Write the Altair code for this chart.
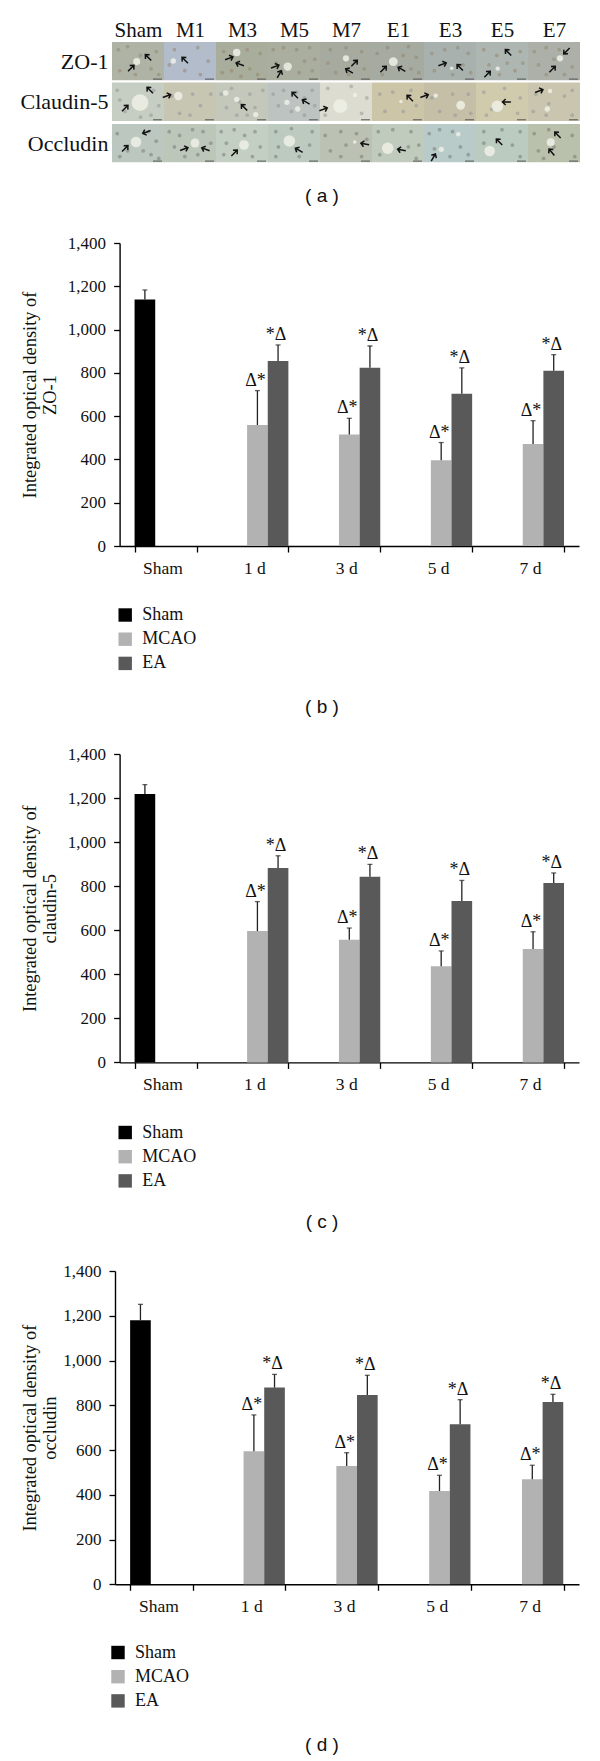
import altair as alt
import pandas as pd

SERIF = "Liberation Serif"
SANS = "Liberation Sans"

# ---------- panel (a): micrograph grid ----------
columns = ["Sham", "M1", "M3", "M5", "M7", "E1", "E3", "E5", "E7"]
rows = ["ZO-1", "Claudin-5", "Occludin"]
row_spans = [(41.7, 80.0), (82.3, 120.7), (123.7, 162.0)]
tile_colors = [
    ["#aeb3a5", "#b3bccb", "#a9ad9c", "#a9ae9f", "#a7ab9f", "#a5aba0", "#a8b1ae", "#adb6b0", "#acb0a8"],
    ["#c6cdc2", "#c7c6b3", "#c3c8bb", "#bcc3c0", "#dcdcd0", "#cdc5a8", "#c5bfa7", "#d1cbae", "#c9c5ae"],
    ["#bcc8bf", "#bcc7ba", "#c4cfc4", "#bccac0", "#bcc2b3", "#c0cabd", "#b8cbc8", "#bccbbf", "#b9c0ab"],
]
nucleus_colors = ["#94846a", "#8e949a", "#6f7670"]
vessel_x = [136.7, 173.3, 236.7, 287.7, 346, 393.3, 451.7, 497.7, 560,
            140, 178.3, 225.7, 236.7, 255.7, 287, 297.7, 340.3, 355, 401, 435.7, 460.7, 497.3, 550, 547.3,
            136, 195, 244, 289.3, 354.7, 387.7, 441.3, 458.3, 489.7, 550.7]
vessel_y = [61.3, 60.7, 52.3, 66.3, 58, 61.3, 68, 68.3, 58,
            102.3, 95.7, 92.7, 99, 114.3, 102, 108.7, 105.7, 94.7, 101.3, 95.3, 105, 106, 90.7, 108.7,
            141.7, 142.7, 144.7, 140.7, 141.7, 148, 149, 134, 150.7, 142]
vessel_d = [8, 6, 8.5, 9.5, 7, 10, 4, 5, 7,
            19, 9.5, 6, 6, 6, 6, 6, 16, 5, 4, 5, 10, 13, 5, 6,
            12, 10, 11, 13, 4, 13, 6, 5, 12, 9]
arrow_x = [131, 148.3, 185, 229, 240, 275, 279.3, 354.3, 349.3, 383.3, 401.7, 442.3, 460, 508.3, 487.3, 566.7, 552.3,
           150, 125, 166.7, 244.3, 295, 306, 323.3, 410, 424.3, 506.7, 539,
           146.7, 125, 184, 205.7, 234.3, 299, 365, 401.7, 433.3, 499.3, 557.7, 551.7]
arrow_y = [68, 57.3, 60, 58, 64, 66.3, 74, 63, 70.7, 69, 69, 64, 67.3, 52.3, 74, 50.7, 69,
           90, 108, 95.7, 107.3, 95, 101.7, 109, 98, 95.7, 101.7, 90.7,
           131.7, 148.3, 148.7, 149, 152.7, 150, 143.7, 149.7, 157.3, 141.7, 134.7, 152]
arrow_angle = [45, 315, 315, 70, 290, 70, 30, 45, 300, 45, 300, 70, 315, 315, 45, 225, 45,
               315, 45, 70, 315, 315, 300, 70, 315, 70, 270, 70,
               250, 45, 70, 290, 45, 300, 280, 280, 30, 315, 315, 320]
# nuclei seen in the tiles, as (across, down) fractions of a tile, listed tile by tile
nuclei_row1 = [
    [(.12, .2), (.3, .12), (.85, .25), (.75, .7), (.15, .75), (.9, .85), (.55, .35), (.45, .85)],
    [(.2, .2), (.65, .15), (.85, .5), (.4, .75), (.7, .85), (.1, .6)],
    [(.15, .25), (.3, .75), (.65, .7), (.85, .3), (.6, .2), (.12, .8), (.8, .85), (.48, .9)],
    [(.1, .2), (.3, .15), (.55, .2), (.8, .15), (.9, .45), (.7, .5), (.35, .6), (.6, .8), (.85, .75), (.15, .55)],
    [(.2, .2), (.5, .15), (.8, .25), (.15, .55), (.7, .5), (.3, .8), (.85, .7), (.55, .85)],
    [(.1, .3), (.3, .15), (.7, .12), (.85, .4), (.75, .7), (.2, .85), (.9, .8), (.6, .35)],
    [(.15, .3), (.4, .2), (.65, .15), (.85, .3), (.75, .6), (.2, .75), (.55, .85), (.9, .8)],
    [(.15, .2), (.4, .35), (.25, .6), (.6, .55), (.85, .25), (.75, .75), (.45, .85), (.9, .55)],
    [(.12, .25), (.35, .15), (.2, .6), (.5, .45), (.85, .65), (.35, .85), (.7, .85), (.6, .2)],
]
nuclei_row2 = [
    [(.1, .2), (.25, .75), (.8, .2), (.9, .6), (.75, .85), (.15, .45), (.55, .9)],
    [(.15, .35), (.3, .8), (.55, .3), (.7, .6), (.9, .3), (.5, .85)],
    [(.1, .3), (.3, .15), (.2, .65), (.45, .5), (.65, .3), (.75, .65), (.9, .2), (.4, .85), (.6, .85)],
    [(.1, .3), (.3, .2), (.2, .6), (.45, .75), (.55, .25), (.7, .4), (.85, .2), (.9, .6), (.7, .85)],
    [(.15, .15), (.6, .1), (.8, .8), (.1, .85), (.9, .4)],
    [(.15, .3), (.4, .25), (.25, .75), (.6, .75), (.85, .6), (.75, .2)],
    [(.15, .4), (.3, .75), (.55, .3), (.6, .85), (.85, .3), (.9, .8)],
    [(.15, .25), (.3, .7), (.55, .15), (.85, .4), (.8, .8), (.2, .85)],
    [(.15, .3), (.1, .75), (.4, .55), (.7, .35), (.85, .2), (.85, .85), (.35, .85)],
]
nuclei_row3 = [
    [(.1, .25), (.3, .7), (.15, .85), (.7, .2), (.85, .45), (.75, .8), (.9, .9), (.6, .7)],
    [(.1, .2), (.3, .3), (.55, .15), (.2, .6), (.75, .2), (.9, .5), (.65, .8), (.4, .85)],
    [(.1, .2), (.35, .15), (.2, .5), (.75, .2), (.85, .6), (.7, .85), (.15, .8), (.55, .3)],
    [(.15, .2), (.45, .12), (.85, .2), (.2, .6), (.8, .55), (.15, .85), (.6, .85)],
    [(.1, .3), (.4, .2), (.7, .25), (.2, .7), (.5, .55), (.8, .85), (.4, .85), (.9, .4)],
    [(.12, .2), (.4, .15), (.75, .2), (.9, .55), (.15, .8), (.7, .6), (.85, .9)],
    [(.1, .25), (.3, .15), (.2, .65), (.55, .2), (.7, .6), (.5, .85), (.85, .8)],
    [(.15, .2), (.5, .15), (.85, .2), (.7, .55), (.15, .5), (.85, .85)],
    [(.12, .25), (.4, .15), (.2, .7), (.5, .6), (.85, .3), (.3, .9), (.9, .85)],
]

X0, X1 = 112.0, 580.0
cw = (X1 - X0) / len(columns)
centers = [X0 + cw * (i + 0.5) for i in range(len(columns))]
tiles = pd.DataFrame([
    {"x": X0 + cw * c, "x2": X0 + cw * (c + 1), "y": row_spans[r][0], "y2": row_spans[r][1], "color": tile_colors[r][c]}
    for r in range(3) for c in range(9)
])
bars_scale = pd.DataFrame([
    {"x": X0 + cw * (c + 1) - 11, "x2": X0 + cw * (c + 1) - 2, "y": row_spans[r][1] - 1.2}
    for r in range(3) for c in range(9)
])
nuclei = pd.DataFrame([
    {"x": X0 + cw * (c + u), "y": row_spans[r][0] + (row_spans[r][1] - row_spans[r][0]) * v, "color": nucleus_colors[r]}
    for r, tbl in enumerate([nuclei_row1, nuclei_row2, nuclei_row3])
    for c, pts in enumerate(tbl) for u, v in pts
])
vessels = pd.DataFrame({"x": vessel_x, "y": vessel_y, "size": [d * d * 0.785 for d in vessel_d]})
arrows = pd.DataFrame({"x": arrow_x, "y": arrow_y, "angle": arrow_angle})

xs = alt.Scale(domain=[X0, X1], range=[0, 468], nice=False, zero=False)
ys = alt.Scale(domain=[row_spans[0][0], row_spans[2][1]], range=[0, 120.3], nice=False, zero=False)
row_centers = [(a + b) / 2 for a, b in row_spans]
col_names = "[" + ",".join(f"'{n}'" for n in columns) + "]"
row_names = "[" + ",".join(f"'{n}'" for n in rows) + "]"
x_axis_a = alt.Axis(orient="top", values=centers,
                    labelExpr=f"{col_names}[floor((datum.value-{X0})/{cw})]",
                    domain=False, ticks=False, labelFont=SERIF, labelFontSize=21, labelColor="#111",
                    labelPadding=2, title=None, grid=False, labelAngle=0)
y_axis_a = alt.Axis(values=row_centers,
                    labelExpr=f"{row_names}[datum.value<81?0:(datum.value<122?1:2)]",
                    domain=False, ticks=False, labelFont=SERIF, labelFontSize=22, labelColor="#111",
                    labelPadding=4, title=None, grid=False)

a_tiles = alt.Chart(tiles).mark_rect(stroke=None).encode(
    x=alt.X("x:Q", scale=xs, axis=x_axis_a), x2="x2:Q",
    y=alt.Y("y:Q", scale=ys, axis=y_axis_a), y2="y2:Q",
    color=alt.Color("color:N", scale=None),
)
a_nuclei = alt.Chart(nuclei).mark_point(filled=True, opacity=0.5, shape="circle", size=14).encode(
    x=alt.X("x:Q", scale=xs), y=alt.Y("y:Q", scale=ys), color=alt.Color("color:N", scale=None),
)
a_vessels = alt.Chart(vessels).mark_point(filled=True, opacity=0.85, color="#eef0e6", shape="circle").encode(
    x=alt.X("x:Q", scale=xs), y=alt.Y("y:Q", scale=ys), size=alt.Size("size:Q", scale=None, legend=None),
)
ARROW = "M0,1 L0,-1 M-0.7,-0.25 L0,-1 L0.7,-0.25"
a_arrows = alt.Chart(arrows).mark_point(shape=ARROW, filled=False, color="#111", strokeWidth=1.5, size=70, opacity=1).encode(
    x=alt.X("x:Q", scale=xs), y=alt.Y("y:Q", scale=ys), angle=alt.Angle("angle:Q", scale=None),
)
a_bars = alt.Chart(bars_scale).mark_rule(color="#555", strokeWidth=1).encode(
    x=alt.X("x:Q", scale=xs), x2="x2:Q", y=alt.Y("y:Q", scale=ys),
)
panel_a = alt.layer(a_tiles, a_nuclei, a_vessels, a_bars, a_arrows).properties(
    width=468, height=120.3,
    title=alt.TitleParams("( a )", orient="bottom", font=SANS, fontSize=19, fontWeight="normal", dx=-24, offset=23, color="#111"),
)

# ---------- panels (b)-(d): bars ----------
groups = ["Sham", "MCAO", "EA"]
times = ["Sham", "1 d", "3 d", "5 d", "7 d"]
days = times[1:]

zo_sham, zo_sham_cap = 1139, 1183
zo_mcao = [559, 515, 396, 471]
zo_mcao_cap = [718, 590, 478, 579]
zo_ea = [855, 824, 703, 810]
zo_ea_cap = [929, 924, 823, 884]

cl_sham, cl_sham_cap = 1218, 1261
cl_mcao = [596, 557, 437, 515]
cl_mcao_cap = [730, 610, 506, 593]
cl_ea = [882, 843, 733, 814]
cl_ea_cap = [938, 899, 826, 860]

oc_sham, oc_sham_cap = 1180, 1251
oc_mcao = [594, 529, 417, 469]
oc_mcao_cap = [757, 588, 487, 532]
oc_ea = [879, 846, 715, 815]
oc_ea_cap = [938, 934, 825, 849]


def table(sham, sham_cap, mcao, mcao_cap, ea, ea_cap):
    recs = [{"time": "Sham", "group": "Sham", "value": sham, "cap": sham_cap, "mark": ""}]
    for i, d in enumerate(days):
        recs.append({"time": d, "group": "MCAO", "value": mcao[i], "cap": mcao_cap[i], "mark": "Δ*"})
        recs.append({"time": d, "group": "EA", "value": ea[i], "cap": ea_cap[i], "mark": "*Δ"})
    return pd.DataFrame(recs)


def bar_panel(df, y_title, caption, left, plot_h, extra, leg_x, leg_y, cap_offset, title_pad):
    xsc = alt.Scale(domain=times, range=[left, 467], paddingInner=0.326, paddingOuter=0.163)
    ysc = alt.Scale(domain=[0, 1400], range=[plot_h, 0], nice=False)
    x = alt.X("time:N", sort=times, scale=xsc, title=None, axis=alt.Axis(
        tickBand="extent", labelAngle=0, labelFont=SERIF, labelFontSize=17.5, labelColor="#111",
        domainColor="#000", domainWidth=1.4, tickColor="#000", tickWidth=1.3, tickSize=6,
        labelPadding=7, labelOffset=-3, offset=-extra, grid=False))
    y = alt.Y("value:Q", scale=ysc, title=y_title, axis=alt.Axis(
        values=list(range(0, 1401, 200)), format=",.0f", labelFont=SERIF, labelFontSize=17, labelColor="#111",
        domainColor="#000", domainWidth=1.4, tickColor="#000", tickWidth=1.3, tickSize=6,
        labelPadding=8, offset=-left, grid=False, titleFont=SERIF, titleFontSize=18.4, titleLineHeight=20,
        titleFontWeight="normal", titleColor="#111", titlePadding=title_pad))
    off = alt.XOffset("group:N", sort=groups, scale=alt.Scale(domain=groups))
    color = alt.Color("group:N", sort=groups, scale=alt.Scale(domain=groups, range=["#000000", "#b2b2b2", "#595959"]),
                      legend=alt.Legend(orient="none", legendX=leg_x, legendY=leg_y, title=None, symbolType="square",
                                        symbolSize=180, symbolStrokeWidth=0, labelFont=SERIF, labelFontSize=18,
                                        labelColor="#111", labelOffset=8, rowPadding=6.2, values=groups))
    bars = alt.Chart(df).mark_bar().encode(x=x, xOffset=off, y=y, color=color)
    rule = alt.Chart(df).mark_rule(color="#222", strokeWidth=1.3).encode(
        x=x, xOffset=off, y=alt.Y("value:Q", scale=ysc), y2="cap:Q")
    caps = alt.Chart(df).mark_tick(color="#222", orient="horizontal", size=5, thickness=1.3).encode(
        x=x, xOffset=off, y=alt.Y("cap:Q", scale=ysc))
    marks = alt.Chart(df).mark_text(font=SERIF, fontSize=18, color="#111", baseline="alphabetic", dy=-5, dx=-2).encode(
        x=x, xOffset=off, y=alt.Y("cap:Q", scale=ysc), text="mark:N")
    return alt.layer(bars, rule, caps, marks).properties(
        width=468, height=plot_h + extra,
        title=alt.TitleParams(caption, orient="bottom", font=SANS, fontSize=19, fontWeight="normal",
                              dx=-24, offset=cap_offset, color="#111"),
    )


panel_b = bar_panel(table(zo_sham, zo_sham_cap, zo_mcao, zo_mcao_cap, zo_ea, zo_ea_cap),
                    ["Integrated optical density of", "ZO-1"], "( b )", 7.6, 303, 127.6, 4.2, 363, 24, 7.5)
panel_c = bar_panel(table(cl_sham, cl_sham_cap, cl_mcao, cl_mcao_cap, cl_ea, cl_ea_cap),
                    ["Integrated optical density of", "claudin-5"], "( c )", 7.6, 308.4, 128.3, 4.2, 369.5, 22, 7.5)
panel_d = bar_panel(table(oc_sham, oc_sham_cap, oc_mcao, oc_mcao_cap, oc_ea, oc_ea_cap),
                    ["Integrated optical density of", "occludin"], "( d )", 3, 313.3, 128, -3, 372.5, 24, 3.5)

chart = alt.vconcat(panel_a, panel_b, panel_c, panel_d, spacing=80, bounds="flush").resolve_scale(
    x="independent", y="independent", color="independent"
).properties(
    padding={"left": 12, "top": 11, "right": 0, "bottom": 0},
    background="white",
).configure_view(stroke=None)

chart.save("out.html", embed_options={"renderer": "svg", "actions": False})
